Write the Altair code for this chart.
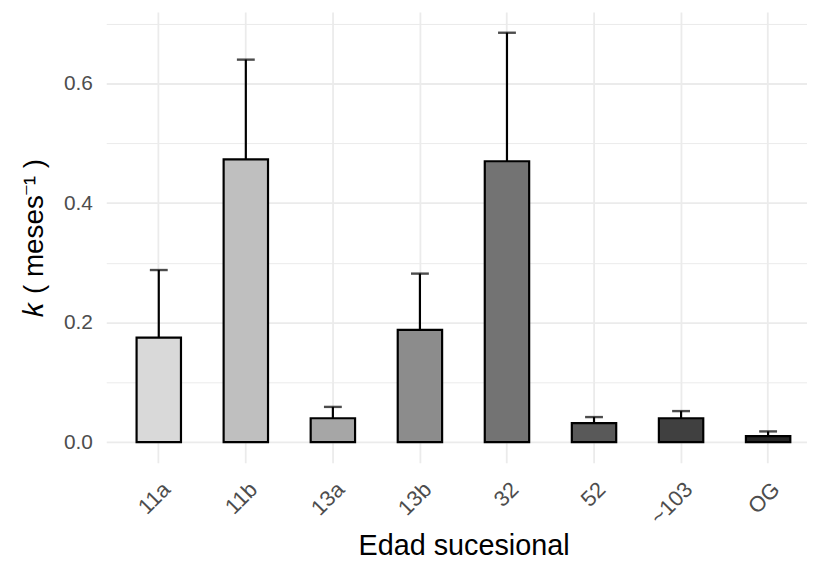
import altair as alt
import pandas as pd

# Data
edad = ["11a", "11b", "13a", "13b", "32", "52", "~103", "OG"]
k_vals = [0.175, 0.473, 0.040, 0.188, 0.470, 0.032, 0.040, 0.010]
k_upper = [0.288, 0.640, 0.059, 0.282, 0.685, 0.042, 0.052, 0.018]
fills = ["#D9D9D9", "#BFBFBF", "#A6A6A6", "#8C8C8C", "#737373", "#595959", "#404040", "#262626"]
y_grid = [0, 0.1, 0.2, 0.3, 0.4, 0.5, 0.6, 0.7]

df = pd.DataFrame({"edad": edad, "k": k_vals, "upper": k_upper})

FONT = "Liberation Sans"
GRID = "#EBEBEB"
LABEL = "#4D4D4D"

x_enc = alt.X(
    "edad:N",
    sort=edad,
    scale=alt.Scale(paddingInner=0.49, paddingOuter=0.27, align=0.645),
    axis=alt.Axis(
        title="Edad sucesional",
        labelAngle=-45,
        labelAlign="right",
        labelBaseline="middle",
        labelOffset=8,
        labelPadding=23,
        labelFontSize=22,
        labelFont=FONT,
        labelColor=LABEL,
        domain=False,
        ticks=False,
        grid=True,
        gridColor=GRID,
        gridWidth=1.8,
        titleFont=FONT,
        titleFontSize=29,
        titleFontWeight="normal",
        titleColor="black",
        titleX=360,
        titleY=93,
        titleAlign="center",
        titleBaseline="alphabetic",
    ),
)

y_scale = alt.Scale(domain=[-0.0343, 0.7196], nice=False, zero=False)

y_enc = alt.Y(
    "k:Q",
    scale=y_scale,
    axis=alt.Axis(
        title="𝑘 ( meses⁻¹ )",
        values=y_grid,
        labelExpr="round(datum.value*10) % 2 == 0 ? format(datum.value, '.1f') : ''",
        domain=False,
        ticks=False,
        labelPadding=14,
        labelFontSize=21,
        labelFont=FONT,
        labelColor=LABEL,
        gridColor=GRID,
        gridWidth={"condition": {"test": "round(datum.value*10) % 2 == 1", "value": 1.0}, "value": 1.8},
        titleFont=FONT,
        titleFontSize=28,
        titleFontWeight="normal",
        titleColor="black",
        titleX=-72,
        titleY=227,
        titleAngle=270,
        titleAlign="center",
        titleBaseline="middle",
    ),
)

base = alt.Chart(df)

bars = base.mark_bar(stroke="black", strokeWidth=2.2).encode(
    x=x_enc,
    y=y_enc,
    y2=alt.datum(0),
    fill=alt.Fill("edad:N", scale=alt.Scale(domain=edad, range=fills), legend=None),
)

rule = base.mark_rule(color="black", strokeWidth=2.2).encode(
    x=alt.X("edad:N", sort=edad),
    y=alt.Y("k:Q", scale=y_scale),
    y2="upper:Q",
)

cap = base.mark_tick(color="black", thickness=2.4, size=18).encode(
    x=alt.X("edad:N", sort=edad),
    y=alt.Y("upper:Q", scale=y_scale),
)

chart = (
    alt.layer(bars, rule, cap)
    .properties(
        width=706,
        height=454,
        autosize=alt.AutoSizeParams(type="none"),
        padding={"left": 99, "top": 2, "right": 0, "bottom": 100},
        background="white",
    )
    .configure_view(stroke=None)
)

chart.save("out.html", embed_options={"renderer": "svg", "actions": False})
